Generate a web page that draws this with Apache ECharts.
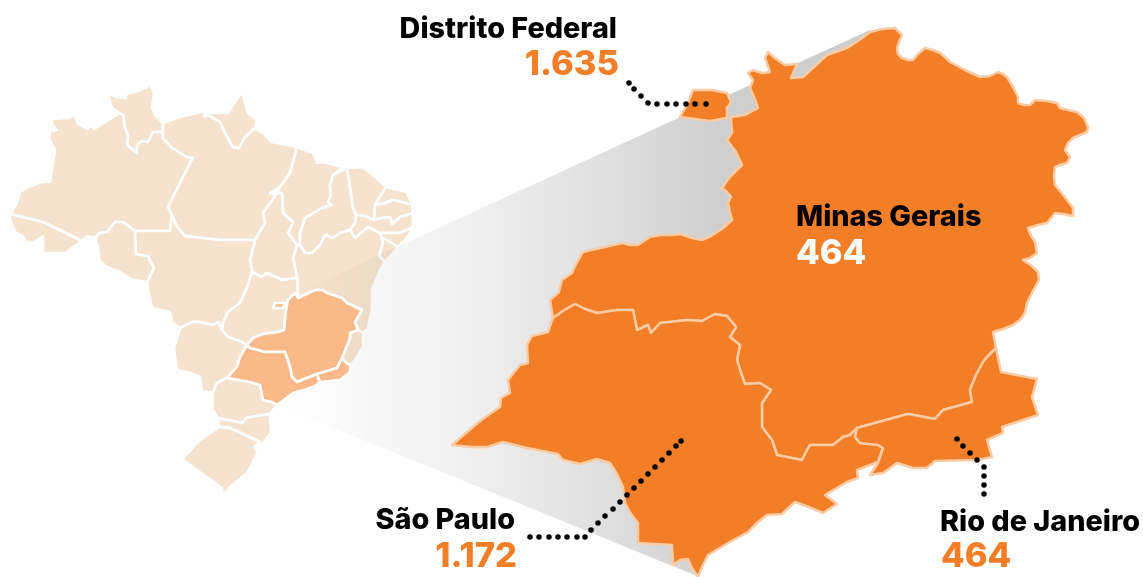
<!DOCTYPE html>
<html>
<head>
<meta charset="utf-8">
<style>html,body{margin:0;padding:0;background:#fff}#chart{width:1143px;height:577px}</style>
<script src="https://cdn.jsdelivr.net/npm/echarts@6/dist/echarts.min.js"></script>
</head>
<body>
<div id="chart"></div>
<script>
// labels
const stateNames = ['Distrito Federal', 'Minas Gerais', 'São Paulo', 'Rio de Janeiro'];
const stateValues = ['1.635', '464', '1.172', '464'];

// outlines, small map of Brazil
const rr = [[107,93],[117,97],[126,98],[126,94],[135,92],[147,87],[149,81],[151,87],[154,93],[152,107],[155,115],[163,123],[163,132],[153,132],[148,142],[142,141],[137,145],[137,153],[127,145],[128,135],[125,128],[123,115],[112,108],[109,98]];
const am = [[52,119],[68,118],[75,115],[77,123],[87,129],[93,125],[94,129],[120,113],[123,115],[125,128],[128,135],[127,145],[137,153],[137,145],[142,141],[148,142],[153,132],[163,132],[163,138],[172,148],[187,157],[193,158],[190,163],[168,207],[172,215],[170,231],[135,231],[123,222],[115,222],[107,232],[100,233],[95,238],[87,236],[82,241],[43,222],[10,214],[17,203],[20,192],[28,187],[42,182],[50,182],[55,150],[49,138],[50,131],[57,130],[52,125]];
const ac = [[10,214],[43,222],[82,241],[65,253],[43,253],[43,236],[33,243],[26,242],[23,236],[16,233],[10,220]];
const ro = [[95,238],[100,233],[107,232],[115,222],[123,222],[135,231],[136,254],[148,256],[154,268],[147,282],[133,280],[120,272],[107,267],[99,260],[98,247]];
const pa = [[163,123],[180,117],[197,113],[203,111],[205,117],[208,115],[220,122],[225,133],[233,147],[239,148],[245,137],[255,128],[263,133],[272,142],[297,147],[290,173],[280,187],[270,193],[276,195],[263,213],[265,223],[255,240],[220,240],[185,236],[177,227],[172,215],[168,207],[190,163],[193,158],[187,157],[172,148],[163,138],[163,132]];
const ap = [[205,112],[208,113],[228,113],[235,102],[242,92],[245,103],[248,113],[257,120],[255,128],[245,137],[239,148],[233,147],[225,133],[220,122],[208,115]];
const ma = [[297,147],[313,153],[317,163],[323,162],[343,167],[333,175],[330,185],[331,195],[328,202],[332,205],[322,208],[305,218],[300,233],[300,245],[297,245],[288,233],[293,222],[283,213],[282,193],[277,193],[280,187],[290,173]];
const pi = [[347,168],[350,187],[353,207],[356,215],[355,223],[350,230],[340,233],[333,238],[325,235],[320,245],[312,253],[305,253],[300,245],[300,233],[305,218],[322,208],[332,205],[328,202],[331,195],[330,185],[333,175]];
const ce = [[347,168],[362,167],[375,177],[386,187],[375,205],[374,220],[365,216],[356,215],[353,207],[350,187]];
const rn = [[386,187],[407,192],[412,205],[398,201],[393,200],[385,203],[375,205]];
const pb = [[375,205],[385,203],[393,200],[398,201],[412,205],[413,213],[400,217],[392,224],[390,217],[382,218],[374,220]];
const pe = [[356,215],[365,216],[374,220],[382,218],[390,217],[392,224],[400,217],[413,213],[413,227],[400,233],[380,233],[368,227],[355,238],[350,230],[355,223]];
const al = [[380,233],[400,233],[413,227],[407,238],[398,247],[380,236]];
const se = [[380,236],[398,247],[385,262],[379,256],[383,242]];
const ba = [[300,245],[305,253],[312,253],[320,245],[325,235],[333,238],[340,233],[350,230],[355,238],[368,227],[380,233],[383,242],[379,256],[385,262],[380,270],[372,290],[372,310],[368,328],[363,333],[358,330],[355,322],[362,310],[347,303],[342,298],[327,293],[322,290],[315,290],[298,298],[298,295],[297,278],[293,258],[297,245]];
const to = [[277,193],[282,193],[283,213],[293,222],[288,233],[297,245],[293,258],[297,278],[282,280],[267,273],[262,277],[252,272],[250,260],[255,240],[265,223],[263,213],[276,195]];
const mt = [[135,231],[170,231],[172,215],[177,227],[185,236],[220,240],[255,240],[250,260],[252,272],[248,285],[240,303],[228,312],[223,323],[222,330],[218,322],[213,325],[200,322],[192,322],[180,328],[172,322],[170,312],[152,308],[150,298],[148,290],[147,282],[154,268],[148,256],[136,254]];
const go = [[252,272],[262,277],[267,273],[282,280],[297,278],[298,295],[295,293],[288,300],[286,310],[284,330],[278,332],[263,334],[253,338],[247,345],[242,342],[228,337],[222,330],[223,323],[228,312],[240,303],[248,285]];
const ms = [[180,328],[192,322],[200,322],[213,325],[218,322],[222,330],[228,337],[242,342],[247,345],[240,357],[237,367],[227,378],[217,383],[213,392],[202,392],[200,377],[190,373],[177,370],[175,357],[174,348],[178,335]];
const es = [[358,330],[363,333],[363,347],[353,363],[350,365],[345,362],[342,358],[350,338],[350,333]];
const pr = [[217,383],[227,378],[250,382],[260,385],[263,400],[272,402],[277,405],[270,414],[257,416],[246,418],[242,423],[218,418],[212,408],[213,392]];
const sc = [[218,418],[242,423],[246,418],[257,416],[270,414],[271,433],[260,447],[260,442],[230,428],[219,427]];
const rs = [[219,427],[230,428],[260,442],[254,447],[258,452],[247,473],[230,487],[222,497],[222,488],[208,478],[193,467],[182,459],[200,440]];
// the four states picked out on the small map
const mg = [[247,345],[253,338],[263,334],[278,332],[284,330],[286,310],[288,300],[295,293],[298,298],[315,290],[322,290],[327,293],[342,298],[347,303],[362,310],[355,322],[358,330],[350,333],[350,338],[342,358],[337,368],[317,374],[302,380],[297,382],[292,377],[290,367],[285,352],[265,352],[250,348]];
const sp = [[247,345],[250,348],[265,352],[285,352],[290,367],[292,377],[297,382],[302,380],[317,374],[320,382],[315,386],[307,389],[293,393],[277,405],[272,402],[263,400],[260,385],[250,382],[227,378],[237,367],[240,357]];
const rj = [[342,358],[345,362],[350,365],[350,372],[340,380],[320,382],[317,374],[337,368]];
const df = [[275,303],[285,303],[283,308],[273,308]];

// outlines of the enlarged states
const mgBig = [[553,318],[550,300],[559,292],[562,280],[572,273],[577,262],[583,252],[600,248],[623,243],[630,245],[638,245],[650,237],[661,235],[673,235],[680,234],[692,238],[702,240],[711,236],[722,229],[732,220],[730,212],[728,203],[731,197],[727,192],[722,188],[730,177],[742,165],[736,152],[727,140],[732,133],[731,117],[745,115],[758,108],[754,97],[750,88],[753,80],[748,73],[753,70],[762,73],[770,72],[765,58],[768,52],[776,59],[785,65],[797,64],[791,78],[803,77],[815,66],[827,55],[847,48],[858,41],[870,32],[882,29],[895,28],[902,35],[899,42],[897,48],[898,54],[902,58],[908,60],[913,60],[918,54],[925,48],[933,50],[940,53],[945,57],[950,62],[965,70],[980,77],[990,76],[998,72],[1003,74],[1007,77],[1013,87],[1018,97],[1018,103],[1024,105],[1030,105],[1035,100],[1047,101],[1057,103],[1060,108],[1068,110],[1077,112],[1084,118],[1088,127],[1087,132],[1073,138],[1068,143],[1065,150],[1070,157],[1067,163],[1060,165],[1055,167],[1054,176],[1055,185],[1064,196],[1073,208],[1073,216],[1063,214],[1055,213],[1047,223],[1038,225],[1028,228],[1030,234],[1035,242],[1037,253],[1030,258],[1023,260],[1032,266],[1038,272],[1039,280],[1033,291],[1027,303],[1025,313],[1020,320],[1013,325],[1003,329],[993,332],[996,348],[988,356],[983,362],[976,375],[970,390],[972,402],[943,410],[935,419],[908,414],[882,421],[857,428],[850,435],[843,437],[833,445],[810,445],[806,452],[802,460],[777,455],[772,440],[762,427],[762,403],[771,390],[760,383],[745,384],[741,373],[737,360],[740,345],[730,337],[736,327],[727,316],[715,314],[702,321],[687,320],[660,323],[651,333],[648,325],[637,330],[633,310],[617,310],[597,313],[585,309],[575,304],[563,311]];
const spBig = [[553,318],[563,311],[575,304],[585,309],[597,313],[617,310],[633,310],[637,330],[648,325],[651,333],[660,323],[687,320],[702,321],[715,314],[727,316],[736,327],[730,337],[740,345],[737,360],[741,373],[745,384],[760,383],[771,390],[762,403],[762,427],[772,440],[777,455],[802,460],[806,452],[810,445],[833,445],[843,437],[850,435],[857,428],[855,437],[860,443],[878,445],[883,448],[878,462],[857,470],[858,478],[847,482],[825,495],[837,504],[823,513],[809,507],[795,502],[782,514],[767,515],[758,522],[748,532],[728,543],[708,555],[702,567],[698,577],[692,568],[688,559],[680,560],[673,565],[672,545],[655,544],[638,543],[638,523],[631,514],[625,503],[623,487],[617,474],[610,463],[597,459],[580,464],[563,460],[558,454],[527,448],[503,442],[487,447],[470,447],[452,445],[466,433],[480,421],[500,407],[501,398],[510,393],[508,380],[520,365],[528,363],[527,345],[532,336],[548,332]];
const rjBig = [[857,428],[882,421],[908,414],[935,419],[943,410],[972,402],[970,390],[976,375],[983,362],[988,356],[996,348],[1001,372],[1037,379],[1032,397],[1038,415],[1002,427],[1003,433],[987,440],[992,457],[977,460],[935,461],[927,468],[913,468],[897,463],[883,473],[870,475],[878,463],[883,448],[878,445],[860,443],[855,437]];
const dfBig = [[693,90],[712,90],[727,93],[731,102],[727,108],[727,118],[710,121],[680,117],[688,103]];

// grey wedge between the two maps
const wedge = [[297,293],[870,30],[880,60],[760,300],[700,500],[700,560],[697,576],[278,405]];

// dotted leaders
const dotsDf = [[629,83],[634,89],[641,96],[648,103],[657,104],[667,104],[676,104],[686,104],[695,104],[706,104]];
const dotsSp = [[681,441],[676,446],[669,453],[662,460],[655,467],[648,474],[641,481],[634,488],[627,495],[620,502],[613,509],[605,516],[598,523],[591,530],[585,537],[577,537],[567,537],[558,537],[549,537],[539,537],[530,537]];
const dotsRj = [[957,439],[963,446],[970,453],[977,460],[984,467],[984,476],[984,485],[984,494]];

const ORANGE = '#f27f27';

function toMap(shapes) {
  return {
    type: 'FeatureCollection',
    features: Object.keys(shapes).map(name => ({
      type: 'Feature',
      properties: { name: name },
      geometry: { type: 'Polygon', coordinates: [shapes[name].concat([shapes[name][0]])] }
    }))
  };
}

echarts.registerMap('brasil', toMap({ rr, am, ac, ro, pa, ap, ma, pi, ce, rn, pb, pe, al, se, ba, to, mt, go, ms, es, pr, sc, rs }));
echarts.registerMap('destaque', toMap({ mg, sp, rj, df }));
echarts.registerMap('detalhe', toMap({ MG: mgBig, SP: spBig, RJ: rjBig, DF: dfBig }));

// picture coordinates are used as they are
const plain = { project: p => p, unproject: p => p };
const frame = { projection: plain, boundingCoords: [[0, 0], [1143, 577]], left: 0, top: 0, width: 1143, height: 577, roam: false, silent: true, label: { show: false } };

const chart = echarts.init(document.getElementById('chart'), null, { renderer: 'canvas' });

function text(str, x, y, font, color, align) {
  return {
    type: 'text', z: 20, x: x, y: y, silent: true,
    style: { text: str, fill: color, align: align, verticalAlign: 'middle', font: font }
  };
}

function dots(data) {
  return {
    type: 'scatter', coordinateSystem: 'geo', geoIndex: 2, z: 10, silent: true,
    symbolSize: 5.5, itemStyle: { color: '#000', opacity: 1 }, data: data
  };
}

const NAME_FONT = '800 28.8px Inter';
const VALUE_FONT = '800 34.5px Inter';

chart.setOption({
  animation: false,
  backgroundColor: '#fff',
  geo: [
    Object.assign({}, frame, {
      map: 'brasil', z: 1,
      itemStyle: { areaColor: '#f5e3cf', borderColor: '#fff', borderWidth: 2.6, borderJoin: 'round' }
    }),
    Object.assign({}, frame, {
      map: 'destaque', z: 4,
      itemStyle: { areaColor: '#f9b988', borderColor: '#fff', borderWidth: 2.6, borderJoin: 'round' }
    }),
    Object.assign({}, frame, {
      map: 'detalhe', z: 5,
      itemStyle: { areaColor: ORANGE, borderColor: '#fbcba4', borderWidth: 2.5, borderJoin: 'round' }
    })
  ],
  series: [
    {
      type: 'custom', coordinateSystem: 'geo', geoIndex: 0, z: 3, silent: true,
      data: [0],
      renderItem(params, api) {
        return {
          type: 'polygon',
          shape: { points: wedge.map(p => api.coord(p)) },
          style: {
            fill: new echarts.graphic.LinearGradient(0, 0, 1, 0, [
              { offset: 0, color: 'rgba(0,0,0,0)' },
              { offset: 0.153, color: 'rgba(0,0,0,0.03)' },
              { offset: 0.286, color: 'rgba(0,0,0,0.05)' },
              { offset: 0.535, color: 'rgba(0,0,0,0.12)' },
              { offset: 0.734, color: 'rgba(0,0,0,0.19)' },
              { offset: 1, color: 'rgba(0,0,0,0.2)' }
            ])
          }
        };
      }
    },
    dots(dotsDf), dots(dotsSp), dots(dotsRj)
  ],
  graphic: [
    text(stateNames[0], 617, 29, NAME_FONT, '#000', 'right'),
    text(stateValues[0], 619, 65, VALUE_FONT, ORANGE, 'right'),
    text(stateNames[1], 796, 217, NAME_FONT, '#000', 'left'),
    text(stateValues[1], 796, 254, VALUE_FONT, '#fff', 'left'),
    text(stateNames[2], 515, 520, NAME_FONT, '#000', 'right'),
    text(stateValues[2], 517, 557, VALUE_FONT, ORANGE, 'right'),
    text(stateNames[3], 940, 522, NAME_FONT, '#000', 'left'),
    text(stateValues[3], 941, 557, VALUE_FONT, ORANGE, 'left')
  ]
});
</script>
</body>
</html>
